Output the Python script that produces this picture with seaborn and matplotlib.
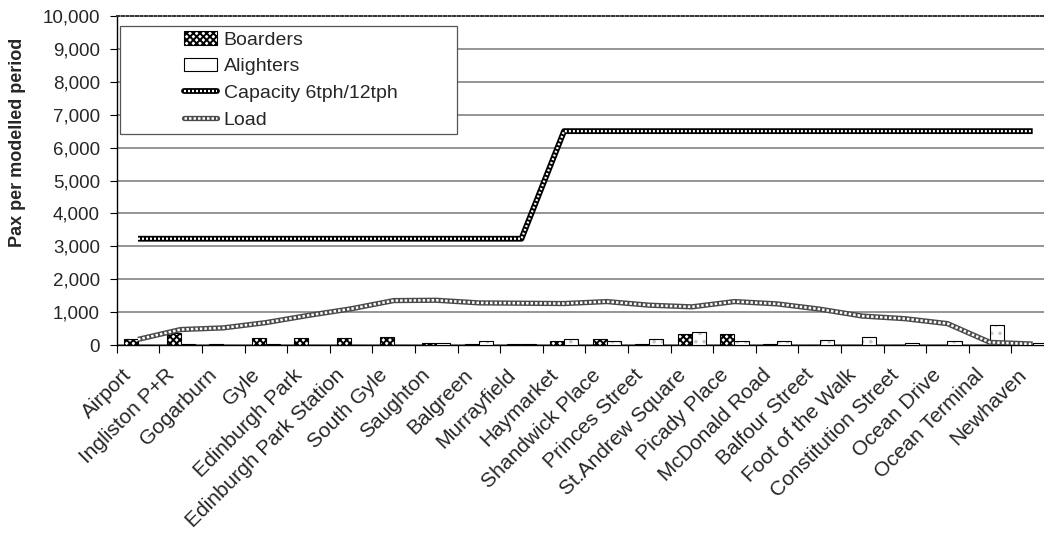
import numpy as np
import pandas as pd
import matplotlib
matplotlib.use("Agg")
import matplotlib.pyplot as plt
from matplotlib.lines import Line2D
from matplotlib.patches import Patch, Rectangle
from matplotlib.ticker import FuncFormatter
from matplotlib.transforms import ScaledTranslation
import seaborn as sns

# Tram stops, west to east
stations = ["Airport", "Ingliston P+R", "Gogarburn", "Gyle", "Edinburgh Park",
            "Edinburgh Park Station", "South Gyle", "Saughton", "Balgreen",
            "Murrayfield", "Haymarket", "Shandwick Place", "Princes Street",
            "St.Andrew Square", "Picady Place", "McDonald Road", "Balfour Street",
            "Foot of the Walk", "Constitution Street", "Ocean Drive",
            "Ocean Terminal", "Newhaven"]

boarders = [170, 375, 40, 200, 200, 200, 235, 70, 30, 30, 130, 180, 30,
            335, 335, 30, 0, 0, 0, 0, 0, 0]
alighters = [0, 20, 0, 30, 0, 0, 0, 70, 120, 30, 170, 120, 170,
             385, 120, 120, 155, 235, 65, 110, 610, 70]
capacity = [3230, 3230, 3230, 3230, 3230, 3230, 3230, 3230, 3230, 3230,
            6500, 6500, 6500, 6500, 6500, 6500, 6500, 6500, 6500, 6500, 6500, 6500]
load = [170, 470, 520, 680, 900, 1100, 1350, 1360, 1280, 1270, 1260, 1320,
        1210, 1160, 1320, 1250, 1090, 880, 800, 650, 80, 30]

y_ticks = list(range(0, 10001, 1000))

sns.set_theme(style="white")
plt.rcParams["font.family"] = ["Liberation Sans", "DejaVu Sans"]
plt.rcParams["hatch.linewidth"] = 1.4

W, H = 1044, 534
fig = plt.figure(figsize=(W / 100, H / 100), dpi=100)
ax = fig.add_axes([116.7 / W, 1 - 345 / H, (1054 - 116.7) / W, 329 / H])

df = pd.DataFrame({
    "station": stations * 2,
    "kind": ["Boarders"] * len(stations) + ["Alighters"] * len(stations),
    "value": boarders + alighters,
})

sns.barplot(data=df, x="station", y="value", hue="kind", order=stations,
            hue_order=["Boarders", "Alighters"], palette=["white", "white"],
            edgecolor="black", linewidth=0.8, width=0.66, gap=0,
            legend=False, ax=ax, zorder=3)

# boarders: dense check; alighters: white with faint dots and a black outline
for bar in ax.containers[0]:
    bar.set_hatch("xxxxx")
    bar.set_edgecolor("black")
for bar in ax.containers[1]:
    bar.set_hatch("..")
    bar.set_edgecolor("#c8c8c8")
    bar.set_linewidth(0)
    ax.add_patch(Rectangle(bar.get_xy(), bar.get_width(), bar.get_height(),
                           fill=False, edgecolor="black", linewidth=0.8, zorder=3.1))

x = np.arange(len(stations))
# chain-like lines: dark core with white dots on top
ax.plot(x, capacity, color="black", lw=4.2, zorder=5, solid_capstyle="butt")
ax.plot(x, capacity, color="white", lw=1.6, ls=(0, (0.9, 0.9)), zorder=6)
ax.plot(x, load, color="#4a4a4a", lw=3.8, zorder=5, solid_capstyle="butt")
ax.plot(x, load, color="white", lw=1.8, ls=(0, (1.0, 0.8)), zorder=6)

ax.set_xlim(-0.5, len(stations) - 0.5)
ax.set_ylim(0, 10000)
ax.set_yticks(y_ticks)
ax.yaxis.set_major_formatter(FuncFormatter(lambda v, p: f"{int(v):,}"))
ax.tick_params(axis="y", direction="out", length=5, width=0.8, color="black",
               labelsize=13.5, pad=7, left=True)

ax.set_xticks(np.arange(-0.5, len(stations), 1))
ax.set_xticklabels([])
ax.set_xticks(x, minor=True)
ax.set_xticklabels(stations, minor=True, rotation=45, ha="right",
                   va="center", rotation_mode="anchor")
ax.tick_params(axis="x", which="major", direction="out", length=6, width=0.8,
               color="black", bottom=True)
ax.tick_params(axis="x", which="minor", length=0, labelsize=15, pad=18)
shift = ScaledTranslation(-0.09, -0.02, fig.dpi_scale_trans)
for lab in ax.get_xticklabels(minor=True):
    lab.set_transform(lab.get_transform() + shift)
ax.set_xlabel("")
ax.set_ylabel("")

ax.yaxis.grid(True, color="#8c8c8c", lw=1.3)
ax.xaxis.grid(False)
ax.get_ygridlines()[-1].set_visible(False)
ax.set_axisbelow(True)

for side in ["left", "bottom"]:
    ax.spines[side].set_visible(True)
    ax.spines[side].set_color("black")
    ax.spines[side].set_linewidth(1.0)
    ax.spines[side].set_linestyle((0, (1, 1)))
ax.spines["top"].set_visible(True)
ax.spines["top"].set_color("#333333")
ax.spines["top"].set_linewidth(1.4)
ax.spines["top"].set_linestyle((0, (1.2, 1.2)))
ax.spines["right"].set_visible(False)

fig.text(18 / W, 1 - 142 / H, "Pax per modelled period", rotation=90,
         ha="center", va="center", fontsize=13, fontweight="bold")

# legend box
fig.add_artist(Rectangle((120 / W, 1 - 134 / H), (457 - 120) / W, (134 - 26) / H,
                         transform=fig.transFigure, facecolor="white",
                         edgecolor="#555555", lw=0.9, zorder=2))
handles = [
    Patch(facecolor="white", edgecolor="black", hatch="xxxxx", lw=0.8),
    Patch(facecolor="white", edgecolor="black", lw=0.8),
    (Line2D([], [], color="black", lw=4.2),
     Line2D([], [], color="white", lw=1.6, ls=(0, (0.9, 0.9)))),
    (Line2D([], [], color="#4a4a4a", lw=3.8),
     Line2D([], [], color="white", lw=1.8, ls=(0, (1.0, 0.8)))),
]
labels = ["Boarders", "Alighters", "Capacity 6tph/12tph", "Load"]
fig.legend(handles, labels, loc="upper left",
           bbox_to_anchor=(184 / W, 1 - 31 / H), bbox_transform=fig.transFigure,
           frameon=False, fontsize=14, handlelength=1.7, handleheight=0.7,
           handletextpad=0.35, labelspacing=0.47, borderpad=0, borderaxespad=0)

fig.savefig("out.png", dpi=100)
